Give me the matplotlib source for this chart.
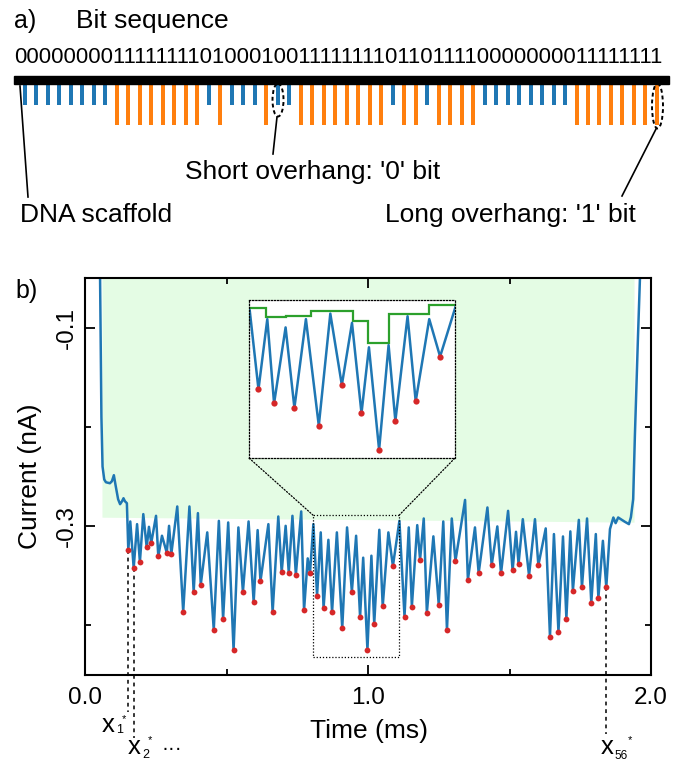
import matplotlib
matplotlib.use("Agg")
import matplotlib.pyplot as plt
from matplotlib.patches import Ellipse, Rectangle, ConnectionPatch

plt.rcParams['font.family'] = ['Liberation Sans', 'DejaVu Sans']

BLUE = '#1f77b4'
ORANGE = '#ff7f0e'
GREEN = '#2ca02c'
RED = '#d62728'

# ---- panel a: encoded bits (one overhang per bit)
bits = "00000000111111110100010011111111011011110000000011111111"

# ---- panel b: current trace (time ms, current nA)
lead_t = [0.051, 0.053, 0.055, 0.058, 0.062, 0.068, 0.074, 0.088, 0.095, 0.102,
          0.108, 0.117, 0.124, 0.131, 0.136, 0.141, 0.148]
lead_i = [-0.02, -0.042, -0.102, -0.190, -0.240, -0.253, -0.2558, -0.2568, -0.2548,
          -0.2487, -0.2588, -0.2729, -0.2779, -0.2749, -0.2719, -0.2749, -0.2769]

# the 56 current minima (red dots)
min_t = [0.153, 0.172, 0.194, 0.218, 0.234, 0.259, 0.289, 0.305, 0.347, 0.384,
         0.409, 0.455, 0.488, 0.525, 0.558, 0.596, 0.620, 0.663, 0.695, 0.720,
         0.745, 0.774, 0.795, 0.820, 0.843, 0.873, 0.909, 0.943, 0.972, 0.998,
         1.022, 1.052, 1.088, 1.129, 1.155, 1.184, 1.208, 1.250, 1.279, 1.309,
         1.353, 1.391, 1.437, 1.470, 1.511, 1.532, 1.569, 1.602, 1.643, 1.673,
         1.701, 1.724, 1.756, 1.789, 1.814, 1.842]
min_i = [-0.3244, -0.3422, -0.3362, -0.3214, -0.3171, -0.3305, -0.3268, -0.3281,
         -0.3864, -0.3663, -0.3590, -0.4045, -0.3935, -0.4250, -0.3663, -0.3764,
         -0.3555, -0.3867, -0.3465, -0.3469, -0.3492, -0.3849, -0.3475, -0.3699,
         -0.3826, -0.3866, -0.4027, -0.3660, -0.3915, -0.4246, -0.3985, -0.3807,
         -0.3402, -0.3913, -0.3810, -0.3338, -0.3873, -0.3792, -0.4048, -0.3350,
         -0.3541, -0.3474, -0.3394, -0.3477, -0.3447, -0.3380, -0.3498, -0.3394,
         -0.4113, -0.4066, -0.3932, -0.3650, -0.3616, -0.3774, -0.3724, -0.3616]

# local maxima between consecutive minima
peak_t = [0.160, 0.184, 0.206, 0.226, 0.251, 0.272, 0.297, 0.326, 0.369, 0.399,
          0.432, 0.473, 0.506, 0.542, 0.578, 0.610, 0.648, 0.683, 0.709, 0.733,
          0.764, 0.787, 0.807, 0.833, 0.860, 0.890, 0.926, 0.958, 0.983, 1.012,
          1.040, 1.072, 1.111, 1.144, 1.174, 1.197, 1.231, 1.266, 1.296, 1.343,
          1.378, 1.422, 1.457, 1.495, 1.523, 1.547, 1.590, 1.628, 1.657, 1.689,
          1.715, 1.745, 1.774, 1.805, 1.830]
peak_i = [-0.2953, -0.2980, -0.2879, -0.3007, -0.2896, -0.3097, -0.2997, -0.2802,
          -0.2802, -0.2869, -0.3063, -0.2947, -0.2963, -0.3013, -0.2953, -0.3040,
          -0.2980, -0.2903, -0.2997, -0.2896, -0.2852, -0.3325, -0.2980, -0.3063,
          -0.3138, -0.3063, -0.3013, -0.3097, -0.3318, -0.3298, -0.3037, -0.3063,
          -0.2947, -0.3013, -0.2990, -0.2923, -0.3103, -0.2953, -0.2923, -0.2736,
          -0.3013, -0.2812, -0.3003, -0.2846, -0.3057, -0.2930, -0.2930, -0.3023,
          -0.3080, -0.3104, -0.3053, -0.2937, -0.2923, -0.3080, -0.3148]

tail_t = [1.855, 1.867, 1.875, 1.884, 1.908, 1.922, 1.929, 1.937, 1.943, 1.954,
          1.961, 1.965]
tail_i = [-0.3030, -0.2913, -0.2970, -0.2913, -0.2957, -0.2980, -0.2910, -0.2729,
          -0.2095, -0.1090, -0.0500, -0.0200]

# shaded open-pore region and inset window
fill_t = [0.06, 1.94]
fill_lo = [-0.291, -0.296]
win_t = [0.806, 1.11]
win_i = [-0.432, -0.289]

# per-bit maximum levels shown in the inset
step_edges = [0.806, 0.831, 0.860, 0.897, 0.960, 0.981, 1.013, 1.072, 1.11]
step_levels = [-0.2961, -0.3045, -0.3033, -0.2991, -0.3081, -0.3277, -0.3015, -0.2934]

marked = [0, 1, 55]
marked_end = [-0.487, -0.513, -0.509]

# build trace by interleaving minima and maxima
trace_t = list(lead_t)
trace_i = list(lead_i)
for k in range(len(min_t)):
    trace_t.append(min_t[k]); trace_i.append(min_i[k])
    if k < len(peak_t):
        trace_t.append(peak_t[k]); trace_i.append(peak_i[k])
trace_t += tail_t
trace_i += tail_i

fig = plt.figure(figsize=(6.91, 7.62), dpi=100)

# overlay in pixel coordinates for panel a and free labels
ov = fig.add_axes([0, 0, 1, 1])
ov.set_xlim(0, 691)
ov.set_ylim(762, 0)
ov.axis('off')

pitch = 11.49
xs = [25 + pitch * k for k in range(len(bits))]
hs = [41 if b == '1' else 21 for b in bits]
cs = [ORANGE if b == '1' else BLUE for b in bits]
ov.bar(xs, hs, bottom=84, width=4, color=cs)
ov.add_patch(Rectangle((14, 76), 655, 8, color='black'))

ov.text(14, 28, 'a)', fontsize=18, va='baseline')
ov.text(76, 28, 'Bit sequence', fontsize=19, va='baseline')
ov.text(338, 63, bits, fontsize=15.9, ha='center', va='baseline')

ov.add_patch(Ellipse((278, 100), 11, 33, fill=False, ls=(0, (2, 1.5)), lw=1.4))
ov.add_patch(Ellipse((657.5, 106), 11, 45, fill=False, ls=(0, (2, 1.5)), lw=1.4))
ov.plot([277, 273], [117, 154], color='black', lw=1.2)
ov.plot([20, 28], [86, 197], color='black', lw=1.2)
ov.plot([656, 622], [129, 196], color='black', lw=1.2)
ov.text(185, 179, "Short overhang: '0' bit", fontsize=19, va='baseline')
ov.text(20, 222, 'DNA scaffold', fontsize=19, va='baseline')
ov.text(385, 222, "Long overhang: '1' bit", fontsize=19, va='baseline')

ov.text(15, 298, 'b)', fontsize=18, va='baseline')

# x* labels
ov.text(102, 732, 'x', fontsize=18.5, va='baseline')
ov.text(116, 733, '1', fontsize=9, va='baseline')
ov.text(122, 722, '*', fontsize=8, va='baseline')
ov.text(128, 754, 'x', fontsize=18.5, va='baseline')
ov.text(142, 758, '2', fontsize=9, va='baseline')
ov.text(148, 743, '*', fontsize=8, va='baseline')
ov.text(162, 754, '\u00b7\u00b7\u00b7', fontsize=15, va='baseline')
ov.text(601, 754, 'x', fontsize=18.5, va='baseline')
ov.text(614, 759, '56', fontsize=8.5, va='baseline')
ov.text(628, 743, '*', fontsize=8, va='baseline')

# main panel
ax = fig.add_axes([85 / 691, 87 / 762, 566 / 691, 397 / 762])
ax.fill_between(fill_t, fill_lo, [0, 0], color='#e4fce4', lw=0, zorder=0)
ax.plot(trace_t, trace_i, color=BLUE, lw=1.8, solid_joinstyle='round', zorder=2)
ax.plot(min_t, min_i, 'o', color=RED, ms=4.2, mec='none', zorder=3)
for k, yend in zip(marked, marked_end):
    ax.plot([min_t[k], min_t[k]], [min_i[k], yend], color='black', lw=1.1,
            dashes=(2.5, 2.5), clip_on=False, zorder=1)

ax.add_patch(Rectangle((win_t[0], win_i[0]), win_t[1] - win_t[0], win_i[1] - win_i[0],
                       fill=False, ls=(0, (1, 1.5)), lw=0.9, zorder=4))
ax.set_xlim(0, 2.0)
ax.set_ylim(-0.45, -0.05)
ax.set_xticks([0, 1, 2])
ax.set_xticklabels(['0.0', '1.0', '2.0'])
ax.set_xticks([0.5, 1.5], minor=True)
ax.set_yticks([-0.1, -0.3])
ax.set_yticklabels(['-0.1', '-0.3'], rotation=90, va='center')
ax.set_yticks([-0.2, -0.4], minor=True)
ax.tick_params(which='both', direction='in', top=True, right=True, width=1.3,
               labelsize=17.5, pad=9)
ax.tick_params(axis='y', pad=5)
ax.tick_params(which='major', length=7)
ax.tick_params(which='minor', length=4.3)
for s in ax.spines.values():
    s.set_linewidth(1.5)
ax.set_xlabel('Time (ms)', fontsize=19)
ax.xaxis.set_label_coords(0.502, -0.11)
ax.set_ylabel('Current (nA)', fontsize=19)
ax.yaxis.set_label_coords(-0.076, 0.5)

# inset
axin = fig.add_axes([249 / 691, (762 - 458) / 762, 206 / 691, 158 / 762])
axin.plot(trace_t, trace_i, color=BLUE, lw=1.8, solid_joinstyle='round')
axin.plot(min_t, min_i, 'o', color=RED, ms=4.5, mec='none', zorder=3)
axin.stairs(step_levels, step_edges, baseline=None, color=GREEN, lw=1.6)
axin.set_xlim(win_t)
axin.set_ylim(win_i)
axin.set_xticks([])
axin.set_yticks([])
for s in axin.spines.values():
    s.set_linestyle((0, (1, 1.5)))
    s.set_linewidth(0.9)

for xa, xb in [(win_t[0], 0), (win_t[1], 1)]:
    con = ConnectionPatch(xyA=(xa, win_i[1]), coordsA=ax.transData,
                          xyB=(xb, 0), coordsB=axin.transAxes,
                          ls=(0, (1, 1.5)), lw=0.9, color='black')
    fig.add_artist(con)

fig.savefig('out.png', dpi=100)
